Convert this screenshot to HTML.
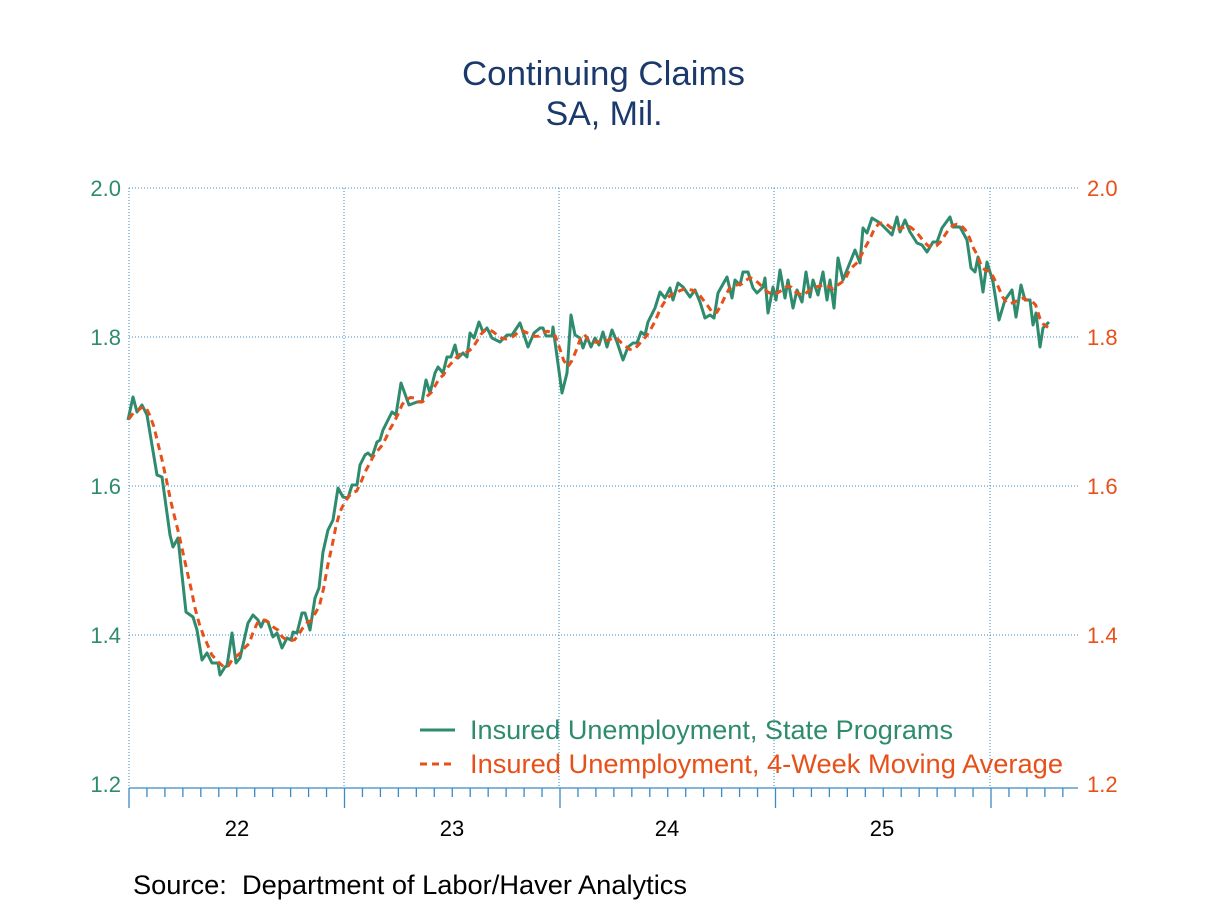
<!DOCTYPE html>
<html><head><meta charset="utf-8"><style>
body{margin:0;background:#fff;}
svg text{font-family:"Liberation Sans",Arial,sans-serif;}
</style></head><body>
<svg id="s" width="1208" height="906" xmlns="http://www.w3.org/2000/svg">
<text x="462" y="85" font-size="34" fill="#1b3a6b" textLength="283" lengthAdjust="spacingAndGlyphs">Continuing Claims</text>
<text x="604" y="125" font-size="34" fill="#1b3a6b" text-anchor="middle">SA, Mil.</text>
<g stroke="#3a8ac4" stroke-width="1" stroke-dasharray="1,2" fill="none">
<line x1="129" y1="188" x2="1078" y2="188"/><line x1="129" y1="337" x2="1078" y2="337"/>
<line x1="129" y1="486" x2="1078" y2="486"/><line x1="129" y1="635" x2="1078" y2="635"/>
<line x1="129" y1="188" x2="129" y2="788"/><line x1="344" y1="188" x2="344" y2="788"/>
<line x1="559" y1="188" x2="559" y2="788"/><line x1="774" y1="188" x2="774" y2="788"/>
<line x1="990" y1="188" x2="990" y2="788"/>
</g>
<g id="ax" stroke="#3a8ac4" stroke-width="1.3"><line x1="129" y1="788" x2="1078" y2="788"/></g>
<g font-size="22" fill="#2e8b6e" text-anchor="end">
<text x="121" y="196">2.0</text><text x="121" y="345">1.8</text><text x="121" y="494">1.6</text><text x="121" y="643">1.4</text><text x="121" y="792">1.2</text>
</g>
<g font-size="22" fill="#e8501a">
<text x="1087" y="196">2.0</text><text x="1087" y="345">1.8</text><text x="1087" y="494">1.6</text><text x="1087" y="643">1.4</text><text x="1087" y="792">1.2</text>
</g>
<g font-size="22" fill="#000" text-anchor="middle">
<text x="237" y="836">22</text><text x="452" y="836">23</text><text x="667" y="836">24</text><text x="882" y="836">25</text>
</g>
<text x="133" y="894" font-size="27" fill="#000" xml:space="preserve" textLength="554" lengthAdjust="spacingAndGlyphs">Source:  Department of Labor/Haver Analytics</text>
<line x1="420" y1="730" x2="455" y2="730" stroke="#2e8b6e" stroke-width="3"/>
<text x="470" y="739" font-size="27" fill="#2e8b6e" textLength="483" lengthAdjust="spacingAndGlyphs">Insured Unemployment, State Programs</text>
<line x1="420" y1="764" x2="456" y2="764" stroke="#e8501a" stroke-width="3" stroke-dasharray="7,5"/>
<text x="470" y="773" font-size="27" fill="#e8501a" textLength="593" lengthAdjust="spacingAndGlyphs">Insured Unemployment, 4-Week Moving Average</text>
<polyline id="g" fill="none" stroke="#2e8b6e" stroke-width="3" stroke-linejoin="round"/>
<polyline id="o" fill="none" stroke="#e8501a" stroke-width="3" stroke-dasharray="7,5"/>
</svg>
<script>
var P=[[128,420],[133,397],[137,412],[142,405],[147,415],[157,475],[162,477],[170,535],[173,547],[178,538],[186,612],[193,617],[197,630],[202,660],[207,653],[212,663],[218,663],[220,675],[225,667],[227,666],[232,633],[236,663],[240,658],[248,623],[253,615],[258,620],[261,627],[264,620],[268,622],[273,637],[277,633],[282,648],[287,638],[291,640],[293,632],[297,633],[302,613],[305,613],[310,630],[315,598],[319,588],[323,552],[328,530],[333,520],[338,488],[343,497],[348,498],[352,485],[357,485],[360,465],[365,455],[368,453],[372,457],[377,442],[380,440],[383,430],[392,412],[396,415],[401,383],[409,405],[417,402],[422,402],[426,380],[430,393],[435,373],[438,367],[443,373],[447,357],[451,357],[455,345],[458,358],[463,353],[467,357],[470,333],[474,338],[479,322],[483,332],[487,328],[492,338],[500,342],[507,335],[512,335],[520,323],[528,347],[534,333],[540,328],[543,328],[546,336],[552,336],[553,327],[562,393],[567,373],[571,315],[575,335],[580,338],[583,348],[587,337],[591,347],[595,338],[599,345],[603,332],[607,347],[612,330],[617,342],[623,360],[628,347],[633,343],[637,343],[641,332],[645,335],[648,322],[655,308],[660,292],[665,298],[670,288],[673,300],[678,283],[683,287],[690,297],[695,290],[700,302],[705,318],[710,315],[714,318],[718,293],[727,277],[732,298],[735,280],[740,285],[743,272],[748,272],[753,288],[757,293],[763,287],[765,278],[768,313],[773,287],[776,300],[780,270],[785,298],[788,280],[793,308],[797,290],[802,302],[806,272],[810,297],[813,280],[818,295],[823,272],[827,300],[830,280],[834,308],[838,258],[843,280],[855,250],[860,263],[863,228],[867,233],[872,218],[880,223],[892,235],[897,217],[900,232],[905,220],[910,232],[917,243],[922,245],[927,252],[933,242],[937,242],[942,228],[950,217],[953,227],[960,227],[967,240],[971,268],[975,272],[978,257],[983,292],[987,262],[993,282],[999,320],[1005,300],[1012,290],[1016,317],[1021,285],[1025,300],[1030,300],[1033,325],[1036,313],[1040,347],[1043,328],[1049,322]];
document.getElementById('g').setAttribute('points',P.map(p=>p.join(',')).join(' '));
function at(x){if(x<=P[0][0])return P[0][1];for(var i=1;i<P.length;i++){if(P[i][0]>=x){var a=P[i-1],b=P[i];return a[1]+(b[1]-a[1])*(x-a[0])/(b[0]-a[0]);}}return P[P.length-1][1];}
var w=4.14,o=[];for(var x=129;x<=1049;x+=w){var s=0;for(var k=0;k<4;k++)s+=at(x-k*w);o.push([x.toFixed(1),(s/4).toFixed(1)]);}
document.getElementById('o').setAttribute('points',o.map(p=>p.join(',')).join(' '));
var ax=document.getElementById('ax'),ns='http://www.w3.org/2000/svg';
for(var m=0;m<=52;m++){var xx=129+m*215.5/12;if(xx>1079)break;var l=document.createElementNS(ns,'line');l.setAttribute('x1',xx);l.setAttribute('x2',xx);l.setAttribute('y1',788);l.setAttribute('y2',m%12==0?808:797);ax.appendChild(l);}
</script>
</body></html>
